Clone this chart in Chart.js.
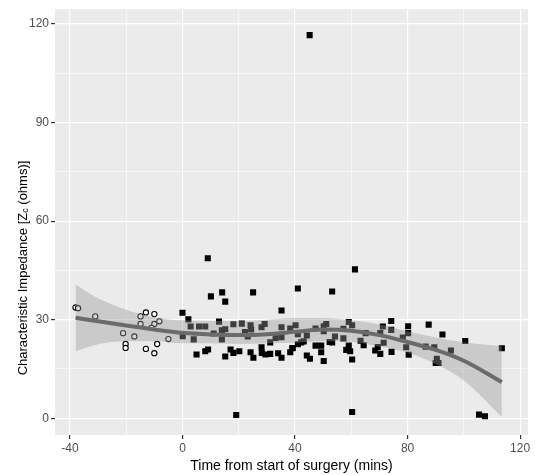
<!DOCTYPE html>
<html>
<head>
<meta charset="utf-8">
<script src="https://cdn.jsdelivr.net/npm/chart.js@4/dist/chart.umd.min.js"></script>
<style>
  html, body { margin: 0; padding: 0; background: #fff; }
  #wrap { width: 535px; height: 475px; }
</style>
</head>
<body>
<div id="wrap"><canvas id="chart" width="535" height="475"></canvas></div>
<script>
// Pre-surgery readings (open circles)
const preTime = [-38.0, -37.1, -31.0, -21.1, -20.2, -20.2, -17.1, -14.9, -13.0, -10.0, -14.9, -10.0, -8.2, -11.0, -5.0, -13.0, -9.0, -10.0];
const preZc   = [33.7, 33.5, 31.0, 25.9, 22.6, 21.4, 24.9, 31.0, 32.2, 31.7, 28.7, 28.7, 29.5, 27.5, 24.1, 21.1, 22.6, 19.8];

// Readings during surgery (filled squares)
const postTime = [9.0, 10.1, 14.1, 15.2, 25.1, 41.0, 0.0, 2.1, 13.0, 35.2, 2.9, 5.9, 8.1, 18.1, 21.1, 24.2, 29.2, 28.1, 14.0, 15.2,
  24.4, 22.2, 35.2, 38.3, 40.2, 11.1, 0.1, 4.0, 14.0, 23.2, 31.2, 33.1, 35.2, 17.1, 18.1, 20.2, 9.1, 8.1, 5.0, 15.2,
  24.2, 25.2, 28.1, 28.2, 29.5, 31.2, 34.0, 35.2, 38.3, 39.2, 41.0, 61.3, 53.2, 47.3, 50.2, 51.1, 59.1, 60.3, 57.2, 50.2,
  74.2, 80.2, 71.2, 74.2, 70.3, 80.2, 65.1, 44.2, 41.0, 54.2, 57.2, 78.3, 43.1, 42.2, 52.3, 53.2, 63.3, 71.5, 64.4, 69.4,
  47.3, 49.3, 59.1, 79.5, 39.0, 49.3, 58.2, 59.6, 68.5, 70.3, 74.3, 44.2, 45.3, 50.2, 60.3, 80.4, 87.5, 92.4, 100.5, 113.5,
  86.4, 89.5, 95.4, 90.4, 90.0, 91.0, 105.4, 107.5, 45.2, 19.1, 60.3];
const postZc = [48.7, 37.1, 38.3, 35.5, 38.3, 39.5, 32.1, 30.1, 29.4, 32.8, 27.9, 27.9, 27.9, 28.6, 28.8, 28.3, 28.7, 27.7, 26.8, 27.1,
  27.0, 26.2, 27.7, 27.3, 28.3, 25.8, 25.0, 24.0, 24.0, 24.9, 23.1, 24.4, 24.7, 20.9, 19.9, 20.4, 20.9, 20.4, 19.4, 18.8,
  20.1, 18.4, 21.6, 19.9, 19.4, 19.6, 19.8, 18.4, 20.1, 21.4, 22.5, 45.3, 38.6, 27.3, 28.0, 28.7, 29.3, 28.3, 27.2, 26.5,
  29.6, 28.0, 27.9, 26.9, 25.9, 25.9, 25.9, 25.2, 25.6, 24.9, 24.3, 24.6, 23.4, 23.1, 23.2, 23.1, 23.6, 23.0, 22.2, 21.7,
  22.1, 22.1, 22.1, 21.6, 21.3, 20.1, 20.8, 20.4, 20.6, 19.6, 20.2, 19.1, 18.1, 17.4, 17.9, 19.3, 28.5, 25.5, 23.5, 21.3,
  21.8, 21.6, 20.6, 18.1, 16.8, 16.8, 1.1, 0.6, 116.6, 1.0, 1.9];

// Smoothed fit with confidence band
const smoothTime  = [-38, -30, -20, -10, 0, 10, 20, 30, 40, 50, 60, 70, 80, 90, 100, 113.5];
const smoothFit   = [30.6, 29.5, 28.2, 27.0, 26.0, 25.5, 25.3, 25.6, 26.3, 27.0, 26.6, 25.3, 23.2, 20.8, 17.5, 11.0];
const smoothUpper = [40.7, 36.5, 33.0, 30.7, 29.8, 29.6, 29.6, 30.0, 30.5, 30.5, 29.8, 28.5, 26.4, 24.6, 23.1, 21.9];
const smoothLower = [20.4, 22.5, 23.4, 23.4, 22.8, 22.8, 22.6, 22.8, 23.0, 23.4, 23.3, 21.8, 19.9, 16.5, 11.5, 0.4];

const xTicks = [-40, -20, 0, 20, 40, 60, 80, 100, 120];
const yTicks = [0, 15, 30, 45, 60, 75, 90, 105, 120];

const pts = (xs, ys) => xs.map((x, i) => ({ x: x, y: ys[i] }));

const FONT = '"Liberation Sans", Arial, sans-serif';

// grey panel behind the grid
const panelBg = {
    id: 'panelBg',
    beforeDraw(chart) {
        const a = chart.chartArea;
        const ctx = chart.ctx;
        ctx.save();
        ctx.fillStyle = '#EBEBEB';
        ctx.fillRect(a.left, a.top, a.right - a.left, a.bottom - a.top);
        ctx.restore();
    }
};

// y title with subscript c
const yTitle = {
    id: 'yTitle',
    afterDraw(chart) {
        const ctx = chart.ctx;
        const parts = [
            { t: 'Characteristic Impedance [Z', size: 13, dy: 0 },
            { t: 'c', size: 9, dy: 3 },
            { t: ' (ohms)]', size: 13, dy: 0 }
        ];
        ctx.save();
        let total = 0;
        parts.forEach(p => {
            ctx.font = p.size + 'px ' + FONT;
            p.w = ctx.measureText(p.t).width;
            total += p.w;
        });
        ctx.translate(23, 268);
        ctx.rotate(-Math.PI / 2);
        ctx.fillStyle = '#000';
        ctx.textBaseline = 'middle';
        ctx.textAlign = 'left';
        let x = -total / 2;
        parts.forEach(p => {
            ctx.font = p.size + 'px ' + FONT;
            ctx.fillText(p.t, x, p.dy);
            x += p.w;
        });
        ctx.restore();
    }
};

new Chart(document.getElementById('chart'), {
    type: 'scatter',
    data: {
        datasets: [
            {
                label: 'fit',
                type: 'line',
                data: pts(smoothTime, smoothFit),
                borderColor: '#6b6b6b',
                borderWidth: 4,
                pointRadius: 0,
                tension: 0.4,
                cubicInterpolationMode: 'monotone',
                fill: false,
                order: -1
            },
            {
                label: 'upper',
                type: 'line',
                data: pts(smoothTime, smoothUpper),
                borderWidth: 0,
                borderColor: 'rgba(0,0,0,0)',
                backgroundColor: 'rgba(153,153,153,0.4)',
                pointRadius: 0,
                cubicInterpolationMode: 'monotone',
                fill: '+1',
                order: 0
            },
            {
                label: 'lower',
                type: 'line',
                data: pts(smoothTime, smoothLower),
                borderWidth: 0,
                borderColor: 'rgba(0,0,0,0)',
                pointRadius: 0,
                cubicInterpolationMode: 'monotone',
                fill: false,
                order: 0
            },
            {
                label: 'during',
                data: pts(postTime, postZc),
                pointStyle: 'rect',
                pointRadius: 4.3,
                backgroundColor: '#000',
                borderWidth: 0,
                order: 1
            },
            {
                label: 'pre',
                data: pts(preTime, preZc),
                pointStyle: 'circle',
                pointRadius: 2.6,
                backgroundColor: '#fff',
                borderColor: '#000',
                borderWidth: 1.1,
                order: 1
            }
        ]
    },
    options: {
        responsive: false,
        animation: false,
        layout: { padding: { top: 4, right: 7, left: 0, bottom: 0 } },
        plugins: {
            legend: { display: false },
            tooltip: { enabled: false }
        },
        scales: {
            x: {
                type: 'linear',
                min: -45.3,
                max: 122.8,
                afterBuildTicks: s => { s.ticks = xTicks.map(v => ({ value: v })); },
                afterFit: s => { s.height = 40; },
                border: { display: false },
                grid: {
                    color: '#fff',
                    lineWidth: c => (c.tick && c.tick.value % 40 === 0) ? 1.2 : 0.6,
                    tickColor: c => (c.tick && c.tick.value % 40 === 0) ? '#333' : 'rgba(0,0,0,0)',
                    tickLength: 4,
                    drawTicks: true
                },
                ticks: {
                    autoSkip: false,
                    maxRotation: 0,
                    padding: 2,
                    color: '#4D4D4D',
                    font: { family: FONT, size: 12 },
                    callback: v => (v % 40 === 0) ? String(v) : ''
                },
                title: {
                    display: true,
                    text: 'Time from start of surgery (mins)',
                    color: '#000',
                    font: { family: FONT, size: 14 },
                    padding: { top: 0, bottom: 0 }
                }
            },
            y: {
                type: 'linear',
                min: -5.1,
                max: 124.5,
                afterBuildTicks: s => { s.ticks = yTicks.map(v => ({ value: v })); },
                afterFit: s => { s.width = 55; },
                border: { display: false },
                grid: {
                    color: '#fff',
                    lineWidth: c => (c.tick && c.tick.value % 30 === 0) ? 1.2 : 0.6,
                    tickColor: c => (c.tick && c.tick.value % 30 === 0) ? '#333' : 'rgba(0,0,0,0)',
                    tickLength: 4,
                    drawTicks: true
                },
                ticks: {
                    autoSkip: false,
                    padding: 2,
                    color: '#4D4D4D',
                    font: { family: FONT, size: 12 },
                    callback: v => (v % 30 === 0) ? String(v) : ''
                }
            }
        }
    },
    plugins: [panelBg, yTitle]
});
</script>
</body>
</html>
